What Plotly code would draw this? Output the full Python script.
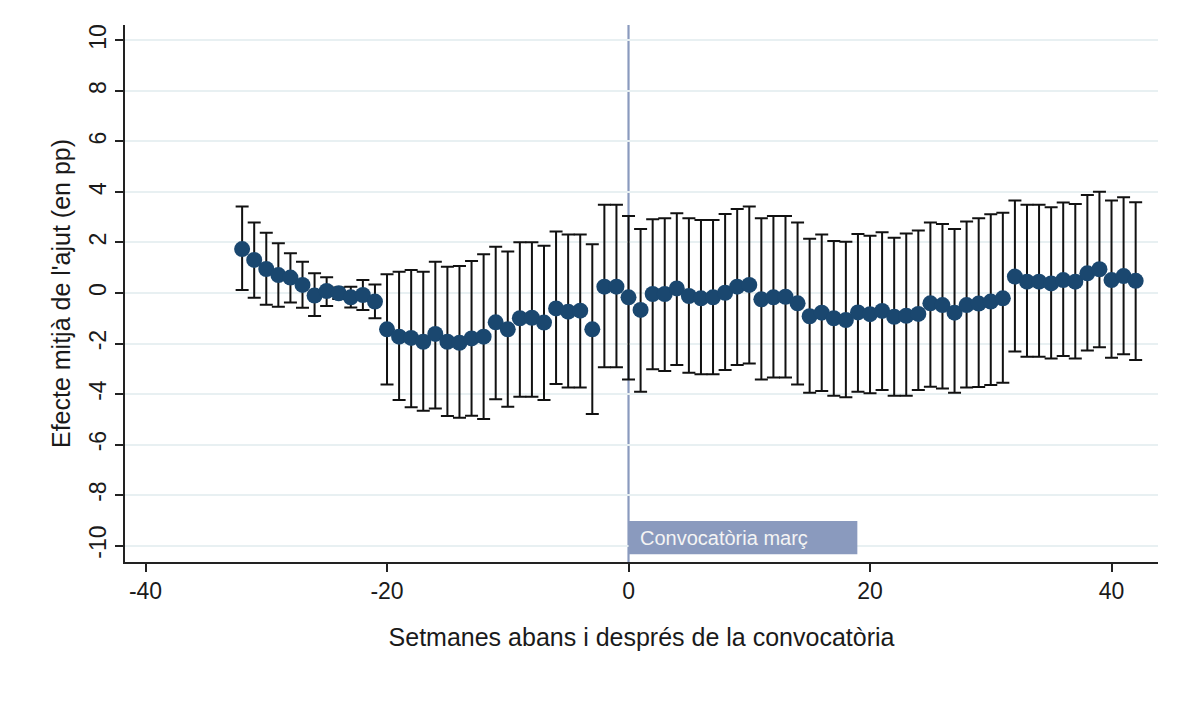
import plotly.graph_objects as go

# Weekly event-study estimates: point effect and 95% CI bounds (pp)
weeks = list(range(-32, 43))
effect = [
    1.74, 1.31, 0.95, 0.71, 0.61, 0.32, -0.10, 0.08, -0.01, -0.17,
    -0.08, -0.34, -1.44, -1.73, -1.78, -1.93, -1.62, -1.93, -1.97, -1.80,
    -1.73, -1.16, -1.44, -1.00, -0.98, -1.17, -0.61, -0.74, -0.70, -1.44,
    0.25, 0.25, -0.17, -0.67, -0.04, -0.04, 0.18, -0.12, -0.21, -0.17,
    0.01, 0.25, 0.32, -0.25, -0.17, -0.15, -0.41, -0.92, -0.78, -1.00,
    -1.07, -0.77, -0.84, -0.71, -0.94, -0.90, -0.83, -0.41, -0.48, -0.78,
    -0.48, -0.42, -0.34, -0.21, 0.65, 0.45, 0.45, 0.38, 0.51, 0.45,
    0.78, 0.94, 0.51, 0.67, 0.48,
]
ci_high = [
    3.42, 2.79, 2.39, 1.97, 1.57, 1.24, 0.78, 0.62, 0.22, 0.25,
    0.51, 0.34, 0.74, 0.84, 0.91, 0.84, 1.24, 1.04, 1.07, 1.27,
    1.53, 1.83, 1.64, 2.01, 2.01, 1.87, 2.43, 2.32, 2.32, 1.93,
    3.49, 3.49, 3.05, 2.53, 2.92, 2.96, 3.16, 2.96, 2.89, 2.89,
    3.13, 3.33, 3.42, 2.96, 3.05, 3.05, 2.79, 2.15, 2.32, 2.06,
    2.03, 2.34, 2.27, 2.40, 2.19, 2.36, 2.47, 2.79, 2.73, 2.53,
    2.83, 2.96, 3.12, 3.18, 3.66, 3.49, 3.49, 3.39, 3.58, 3.52,
    3.88, 4.01, 3.66, 3.79, 3.59,
]
ci_low = [
    0.12, -0.19, -0.47, -0.54, -0.38, -0.58, -0.91, -0.51, -0.24, -0.57,
    -0.67, -1.00, -3.62, -4.24, -4.52, -4.66, -4.57, -4.87, -4.94, -4.86,
    -4.99, -4.21, -4.50, -4.11, -4.11, -4.24, -3.60, -3.74, -3.74, -4.79,
    -2.94, -2.94, -3.42, -3.91, -3.02, -3.09, -2.85, -3.16, -3.22, -3.22,
    -3.05, -2.85, -2.79, -3.42, -3.35, -3.35, -3.62, -3.95, -3.88, -4.07,
    -4.13, -3.91, -3.97, -3.84, -4.07, -4.07, -3.84, -3.71, -3.78, -3.95,
    -3.74, -3.72, -3.64, -3.55, -2.32, -2.52, -2.52, -2.59, -2.49, -2.59,
    -2.28, -2.15, -2.56, -2.43, -2.65,
]

x_ticks = [-40, -20, 0, 20, 40]
x_tick_text = ["-40", "-20", "0", "20", "40"]
y_ticks = [-10, -8, -6, -4, -2, 0, 2, 4, 6, 8, 10]
y_tick_text = ["-10", "-8", "-6", "-4", "-2", "0", "2", "4", "6", "8", "10"]

event_week = 0
event_label = "Convocatòria març"
label_box_x = [0, 18.95]
label_box_y = [-10.34, -9.03]

FONT = "Liberation Sans, Arial, sans-serif"
NAVY = "#1a476f"
EVENT_BLUE = "#8a9abe"

err_plus = [h - e for h, e in zip(ci_high, effect)]
err_minus = [e - l for e, l in zip(effect, ci_low)]

fig = go.Figure()
fig.add_trace(go.Scatter(
    x=weeks, y=effect, mode="markers",
    marker=dict(color=NAVY, size=16, line=dict(width=0)),
    error_y=dict(type="data", symmetric=False, array=err_plus,
                 arrayminus=err_minus, color="#111111", thickness=2, width=6.5),
    showlegend=False, hoverinfo="x+y",
))

# reference line at zero
fig.add_shape(type="line", xref="paper", x0=0, x1=1, yref="y", y0=0, y1=0,
              line=dict(color="#aab6d2", width=1.6, dash="15px,9px"), layer="below")
# vertical line at the call week
fig.add_shape(type="line", xref="x", x0=event_week, x1=event_week, yref="paper", y0=0, y1=1,
              line=dict(color=EVENT_BLUE, width=2.2, dash="solid"), layer="below")
# label box for the call
fig.add_shape(type="rect", xref="x", yref="y",
              x0=label_box_x[0], x1=label_box_x[1], y0=label_box_y[0], y1=label_box_y[1],
              fillcolor=EVENT_BLUE, line=dict(width=0), layer="above")
fig.add_annotation(x=label_box_x[0] + 0.75, y=sum(label_box_y) / 2, xref="x", yref="y",
                   text=event_label, showarrow=False, xanchor="left", yanchor="middle",
                   font=dict(family=FONT, size=20, color="#f4f4f4"))

fig.update_layout(
    width=1178, height=702,
    margin=dict(l=125, r=20, t=25, b=140, autoexpand=False),
    paper_bgcolor="white", plot_bgcolor="white",
    font=dict(family=FONT, color="#1a1a1a"),
    xaxis=dict(
        range=[-41.7, 43.85], tickvals=x_ticks, ticktext=x_tick_text,
        showgrid=False, zeroline=False,
        showline=True, linecolor="#222222", linewidth=1.6,
        ticks="outside", ticklen=8, tickwidth=1.6, tickcolor="#222222",
        tickfont=dict(family=FONT, size=23, color="#1a1a1a"),
        title=dict(text="Setmanes abans i després de la convocatòria",
                   font=dict(family=FONT, size=25, color="#1a1a1a"), standoff=25),
    ),
    yaxis=dict(
        range=[-10.65, 10.61], tickvals=y_ticks, ticktext=y_tick_text,
        showgrid=True, gridcolor="#e8f0f2", gridwidth=1.6, zeroline=False,
        showline=True, linecolor="#222222", linewidth=1.6,
        ticks="outside", ticklen=8, tickwidth=1.6, tickcolor="#222222",
        tickangle=-90,
        tickfont=dict(family=FONT, size=23, color="#1a1a1a"),
        title=dict(text="Efecte mitjà de l'ajut (en pp)",
                   font=dict(family=FONT, size=25, color="#1a1a1a"), standoff=7),
    ),
)

fig.write_html("out.html")
